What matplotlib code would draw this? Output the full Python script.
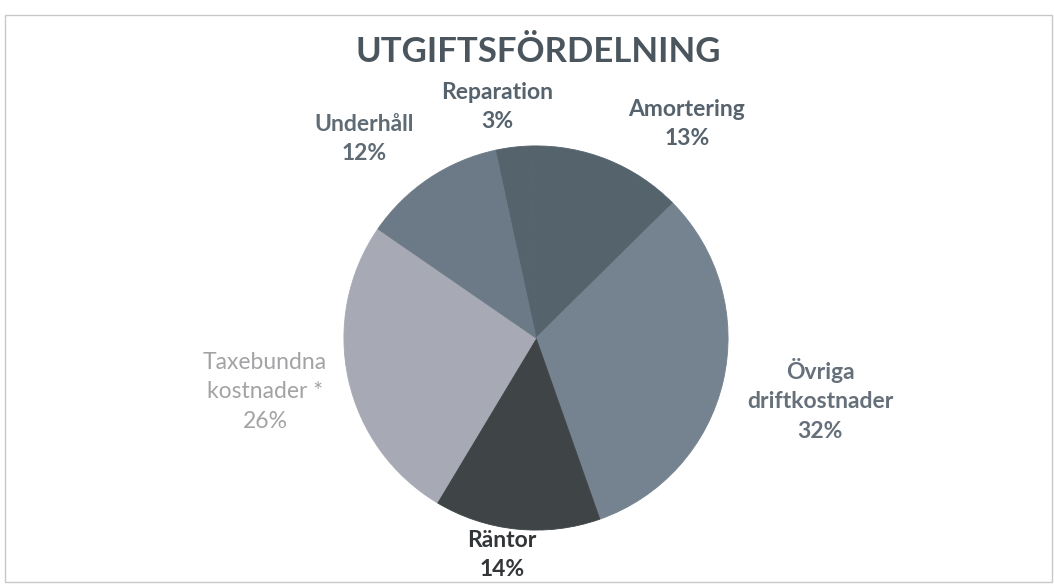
import matplotlib
matplotlib.use("Agg")
import matplotlib.pyplot as plt
from matplotlib.patches import Rectangle

# ---- data ----
categories = ["Reparation", "Amortering", "Övriga\ndriftkostnader", "Räntor",
              "Taxebundna\nkostnader *", "Underhåll"]
values = [3, 13, 32, 14, 26, 12]
title = "UTGIFTSFÖRDELNING"

# ---- style ----
colors = ["#55636d", "#55636d", "#74838f", "#3f4447", "#a7aab4", "#6b7a86"]
label_colors = ["#56626c", "#56626c", "#66707a", "#333638", "#a3a3a6", "#5f6b75"]
label_weights = ["bold", "bold", "bold", "bold", "normal", "bold"]
# label centres in figure pixels (x, y from top)
label_pos = [(497, 107), (687, 124), (820, 400), (502, 555), (265, 392), (364, 139)]

W, H = 1054, 585
fig = plt.figure(figsize=(W / 100, H / 100), dpi=100)
plt.rcParams['font.family'] = ['Lato', 'DejaVu Sans']

cx, cy, r = 536, 338, 194
ax = fig.add_axes([(cx - r) / W, (H - cy - r) / H, 2 * r / W, 2 * r / H])
wedges, _ = ax.pie(values, colors=colors, startangle=102.2, counterclock=False,
                   radius=1.0)
for w in wedges:
    w.set_edgecolor(w.get_facecolor())
    w.set_linewidth(0.6)
ax.set_xlim(-1.01, 1.01)
ax.set_ylim(-1.01, 1.01)
ax.set_aspect("equal")
ax.axis("off")

for cat, v, col, wt, (x, y) in zip(categories, values, label_colors, label_weights, label_pos):
    fig.text(x / W, 1 - y / H, f"{cat}\n{v}%", ha="center", va="center",
             fontsize=16.5, color=col, fontweight=wt, linespacing=1.5)

fig.text(538 / W, 1 - 52 / H, title, ha="center", va="center", fontsize=25,
         fontweight="bold", color="#4a555d")

fig.patches.append(Rectangle((5 / W, 1 - 582 / H), 1047 / W, 567 / H,
                             transform=fig.transFigure, fill=False,
                             edgecolor="#c8c8c8", linewidth=1))

fig.savefig("out.png", dpi=100, facecolor="white")
